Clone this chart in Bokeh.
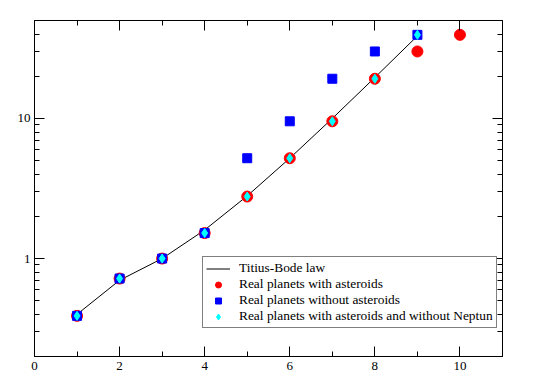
from bokeh.plotting import figure
from bokeh.models import (LinearAxis, LogAxis, FixedTicker, Legend, LegendItem)
from bokeh.embed import file_html
from bokeh.resources import INLINE

# Data
tb_n = [1, 2, 3, 4, 5, 6, 7, 8, 9]
tb_a = [0.4, 0.7, 1.0, 1.6, 2.8, 5.2, 10.0, 19.6, 38.8]

with_ast_n = [1, 2, 3, 4, 5, 6, 7, 8, 9, 10]
with_ast_a = [0.39, 0.72, 1.0, 1.52, 2.77, 5.2, 9.54, 19.2, 30.06, 39.5]

without_ast_n = [1, 2, 3, 4, 5, 6, 7, 8, 9]
without_ast_a = [0.39, 0.72, 1.0, 1.52, 5.2, 9.54, 19.2, 30.06, 39.5]

no_nep_n = [1, 2, 3, 4, 5, 6, 7, 8, 9]
no_nep_a = [0.39, 0.72, 1.0, 1.52, 2.77, 5.2, 9.54, 19.2, 39.5]

x_major = [0, 2, 4, 6, 8, 10]
x_minor = [1, 3, 5, 7, 9]
y_major = [1, 10]
y_minor = [0.2, 0.3, 0.4, 0.5, 0.6, 0.7, 0.8, 0.9,
           2, 3, 4, 5, 6, 7, 8, 9, 20, 30, 40, 50]

FONT = "Liberation Serif"

p = figure(frame_width=468, frame_height=336, y_axis_type="log",
           x_range=(0, 11), y_range=(0.2, 50),
           output_backend="svg", toolbar_location=None,
           min_border_left=34, min_border_right=26,
           min_border_top=20, min_border_bottom=23,
           background_fill_color="white", border_fill_color="white")
p.grid.visible = False
p.outline_line_color = "black"
p.outline_line_width = 1

xt = FixedTicker(ticks=x_major, minor_ticks=x_minor)
yt = FixedTicker(ticks=y_major, minor_ticks=y_minor)

def style(ax):
    ax.axis_line_color = "black"
    ax.major_tick_line_color = "black"
    ax.minor_tick_line_color = "black"
    ax.major_tick_in = 10
    ax.major_tick_out = 0
    ax.minor_tick_in = 5
    ax.minor_tick_out = 0
    ax.major_label_text_font = FONT
    ax.major_label_text_font_size = "13px"
    ax.major_label_text_color = "black"
    ax.major_label_standoff = 5

p.xaxis.ticker = xt
p.yaxis.ticker = yt
style(p.xaxis[0])
style(p.yaxis[0])
p.yaxis[0].major_label_standoff = 4
p.yaxis[0].major_label_overrides = {1: "1", 10: "10"}

top = LinearAxis(ticker=xt)
style(top)
top.major_label_overrides = {t: "" for t in x_major}
top.major_label_standoff = 0
p.add_layout(top, "above")
right = LogAxis(ticker=yt)
style(right)
right.major_label_overrides = {t: "" for t in y_major}
right.major_label_standoff = 0
p.add_layout(right, "right")

r_line = p.line(tb_n, tb_a, line_color="black", line_width=1)
r_red = p.scatter(with_ast_n, with_ast_a, marker="circle", size=11,
                  fill_color="red", line_color="red")
r_blue = p.scatter(without_ast_n, without_ast_a, marker="square", size=9,
                   fill_color="blue", line_color="blue")
r_cyan = p.scatter(no_nep_n, no_nep_a, marker="diamond", size=9,
                   fill_color="cyan", line_color="cyan")

legend = Legend(items=[
    LegendItem(label="Titius-Bode law", renderers=[r_line]),
    LegendItem(label="Real planets with asteroids", renderers=[r_red]),
    LegendItem(label="Real planets without asteroids", renderers=[r_blue]),
    LegendItem(label="Real planets with asteroids and without Neptun", renderers=[r_cyan]),
], location=(168, 28), padding=3, spacing=0, margin=0,
    glyph_width=24, glyph_height=15, label_height=15, label_standoff=9,
    label_text_font=FONT, label_text_font_size="13.4px", label_text_color="black",
    border_line_color="black", border_line_width=1,
    background_fill_color="white", background_fill_alpha=1)
p.add_layout(legend, "center")

open("out.html", "w").write(file_html(p, INLINE))
